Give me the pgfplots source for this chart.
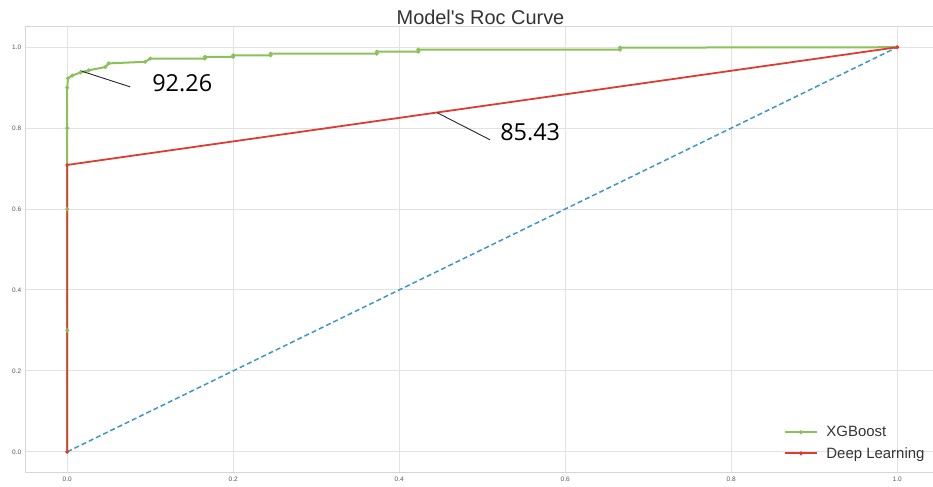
\documentclass[border=0pt]{standalone}
\usepackage{fontspec}
\setmainfont{Liberation Sans}[Ligatures=TeXOff]
\newfontfamily\annfont{Open Sans}
\usepackage{pgfplots}
\pgfplotsset{compat=1.18}
\definecolor{xgb}{HTML}{8CC05A}
\definecolor{dlr}{HTML}{DC3C32}
\definecolor{dlrm}{HTML}{A02820}
\definecolor{diag}{HTML}{3C96C8}
\definecolor{gridc}{HTML}{E2E2E2}
\definecolor{spinec}{HTML}{D5D5D5}
\definecolor{tickc}{HTML}{555555}
\definecolor{txt}{HTML}{333333}
\begin{document}
\begin{tikzpicture}
\path[use as bounding box] (0,0) rectangle (933bp,487bp);
\node[font=\fontsize{20}{24}\selectfont, text=txt] at (480.5bp,470bp) {Model's Roc Curve};
\begin{axis}[
  at={(25.7bp,15bp)}, anchor=south west,
  scale only axis, width=913bp, height=445bp,
  xmin=-0.05, xmax=1.05, ymin=-0.05, ymax=1.05,
  xtick={0,0.2,0.4,0.6,0.8,1.0}, ytick={0,0.2,0.4,0.6,0.8,1.0},
  /pgf/number format/assume math mode=true,
  /pgf/number format/.cd, fixed, fixed zerofill, precision=1, /pgfplots/.cd,
  ticklabel style={font=\fontsize{6.5}{7}\selectfont, text=tickc},
  yticklabel style={xshift=-1bp},
  xticklabel style={yshift=-1bp},
  major tick length=0pt,
  grid=major, grid style={gridc, line width=1bp},
  axis line style={spinec, line width=1bp},
  legend style={at={(0.827,0.111)}, anchor=north west, draw=none, fill=none,
    font=\fontsize{15}{18}\selectfont, text=txt, row sep=6bp,
    nodes={inner sep=1.5bp},
    /tikz/every odd column/.append style={column sep=7bp}},
  legend cell align=left,
  legend image code/.code={\draw[#1, line width=2bp, mark repeat=2, mark phase=2] plot coordinates {(0bp,0bp) (16bp,0bp) (32bp,0bp)};},
]
\addplot[diag, dashed, line width=1.5bp, dash pattern=on 5bp off 3bp, forget plot] coordinates {(0,0) (1,1)};
\addplot[xgb, line width=2bp, mark=*, mark size=0.8bp, mark options={fill=xgb!80!black, draw=none}] coordinates {
(0,0) (0,0.30) (0,0.60) (0,0.80) (0,0.90) (0.001,0.923) (0.006,0.930) (0.016,0.9375)
(0.026,0.943) (0.046,0.951) (0.050,0.960) (0.094,0.964) (0.100,0.972)
(0.166,0.972) (0.166,0.976) (0.200,0.976) (0.200,0.980) (0.245,0.980) (0.245,0.984)
(0.373,0.984) (0.373,0.989) (0.423,0.989) (0.423,0.994) (0.666,0.994) (0.666,0.999) (1,1)
};
\addlegendentry{XGBoost}
\addplot[dlr, line width=1.8bp, mark=*, mark size=0.8bp, mark options={fill=dlrm, draw=none}] coordinates {
(0,0) (0,0.709) (1,1)
};
\addlegendentry{Deep Learning}
\draw[black!85, line width=0.9bp] (axis cs:0.0157,0.942) -- (axis cs:0.0759,0.902);
\node[font=\annfont\fontsize{23.5}{26}\selectfont, anchor=center] at (axis cs:0.1386,0.912) {92.26};
\draw[black!85, line width=0.9bp] (axis cs:0.4458,0.838) -- (axis cs:0.5096,0.771);
\node[font=\annfont\fontsize{23.5}{26}\selectfont, anchor=center] at (axis cs:0.5578,0.791) {85.43};
\end{axis}
\end{tikzpicture}
\end{document}
